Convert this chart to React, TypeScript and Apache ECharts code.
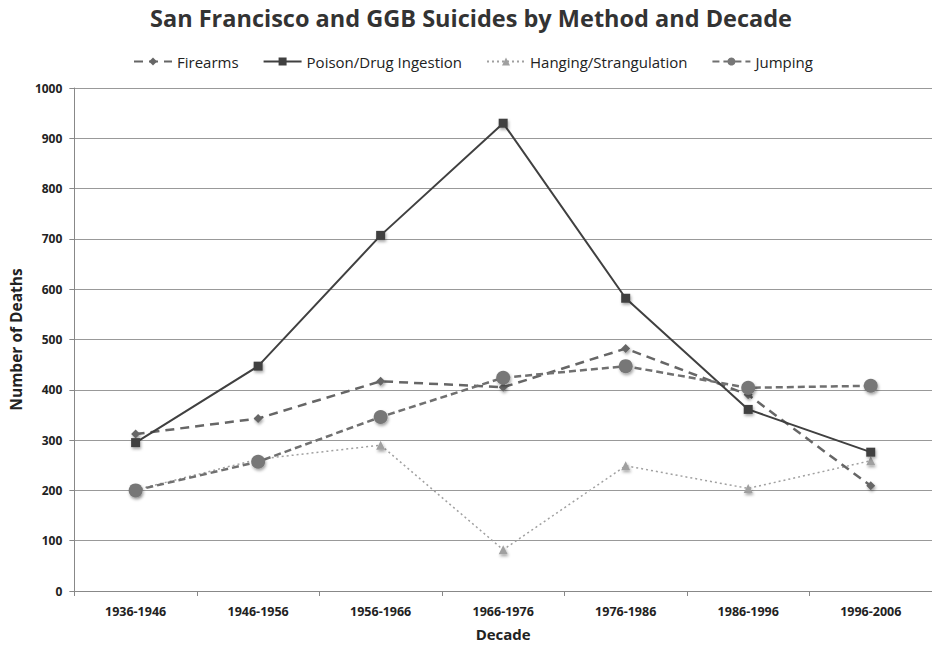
import React, { useEffect, useRef } from "react";
import * as echarts from "echarts";

const categories = ["1936-1946", "1946-1956", "1956-1966", "1966-1976", "1976-1986", "1986-1996", "1996-2006"];
const firearms = [312, 343, 417, 405, 482, 390, 209];
const poison = [295, 447, 707, 930, 582, 361, 276];
const hanging = [201, 262, 290, 82, 249, 204, 259];
const jumping = [200, 257, 346, 424, 447, 404, 408];

const FONT = "Open Sans";

export default function App() {
  const ref = useRef<HTMLDivElement>(null);
  useEffect(() => {
    if (!ref.current) return;
    const chart = echarts.init(ref.current, null, { renderer: "svg" });
    const shadow = { shadowBlur: 3, shadowColor: "rgba(0,0,0,0.35)", shadowOffsetX: 1, shadowOffsetY: 2 };
    chart.setOption({
      animation: false,
      backgroundColor: "#fff",
      title: {
        text: "San Francisco and GGB Suicides by Method and Decade",
        left: 466,
        textAlign: "center",
        top: 1,
        textStyle: { fontFamily: FONT, fontWeight: "bold", fontSize: 23.5, color: "#333" },
      },
      legend: {
        top: 49,
        left: 128,
        width: 800,
        itemGap: 24,
        itemWidth: 38,
        itemHeight: 10,
        textStyle: { fontFamily: FONT, fontSize: 15, color: "#222" },
        data: [
          { name: "Firearms" },
          { name: "Poison/Drug Ingestion" },
          { name: "Hanging/Strangulation" },
          { name: "Jumping" },
        ],
      },
      grid: { left: 71, width: 869, top: 88, height: 504, containLabel: false },
      xAxis: {
        type: "category",
        data: categories,
        name: "Decade",
        nameLocation: "middle",
        nameGap: 35,
        nameTextStyle: { fontFamily: FONT, fontWeight: "bold", fontSize: 15, color: "#222" },
        axisLine: { lineStyle: { color: "#888", width: 1 } },
        axisTick: { show: true, length: 5, lineStyle: { color: "#888" } },
        axisLabel: { fontFamily: FONT, fontWeight: "bold", fontSize: 12.5, color: "#222", margin: 14 },
      },
      yAxis: {
        type: "value",
        min: 0,
        max: 1000,
        interval: 100,
        name: "Number of Deaths",
        nameLocation: "middle",
        nameGap: 48,
        nameTextStyle: { fontFamily: FONT, fontWeight: "bold", fontSize: 15.5, color: "#222" },
        axisLine: { show: true, lineStyle: { color: "#888", width: 1 } },
        axisTick: { show: true, length: 5, lineStyle: { color: "#888" } },
        axisLabel: { fontFamily: FONT, fontWeight: "bold", fontSize: 12, color: "#222", margin: 12, formatter: (v: number) => String(v) },
        splitLine: { lineStyle: { color: "#999", width: 1.2 } },
      },
      series: [
        {
          name: "Firearms",
          type: "line",
          data: firearms,
          symbol: "diamond",
          symbolSize: 9,
          lineStyle: { color: "#666", width: 2.5, type: [9, 6] },
          itemStyle: { color: "#666", ...shadow },
          z: 3,
        },
        {
          name: "Poison/Drug Ingestion",
          type: "line",
          data: poison,
          symbol: "rect",
          symbolSize: 9,
          lineStyle: { color: "#404040", width: 2 },
          itemStyle: { color: "#404040", ...shadow },
          z: 4,
        },
        {
          name: "Hanging/Strangulation",
          type: "line",
          data: hanging,
          symbol: "triangle",
          symbolSize: 9,
          lineStyle: { color: "#a0a0a0", width: 1.5, type: [2, 3] },
          itemStyle: { color: "#a0a0a0", ...shadow },
          z: 2,
        },
        {
          name: "Jumping",
          type: "line",
          data: jumping,
          symbol: "circle",
          symbolSize: 14,
          lineStyle: { color: "#707070", width: 2.5, type: [7, 4] },
          itemStyle: { color: "#777", ...shadow },
          z: 5,
        },
      ],
    });
    return () => chart.dispose();
  }, []);
  return (
    <div
      ref={ref}
      style={{ position: "fixed", left: 0, top: 0, width: 932, height: 646 }}
    />
  );
}
